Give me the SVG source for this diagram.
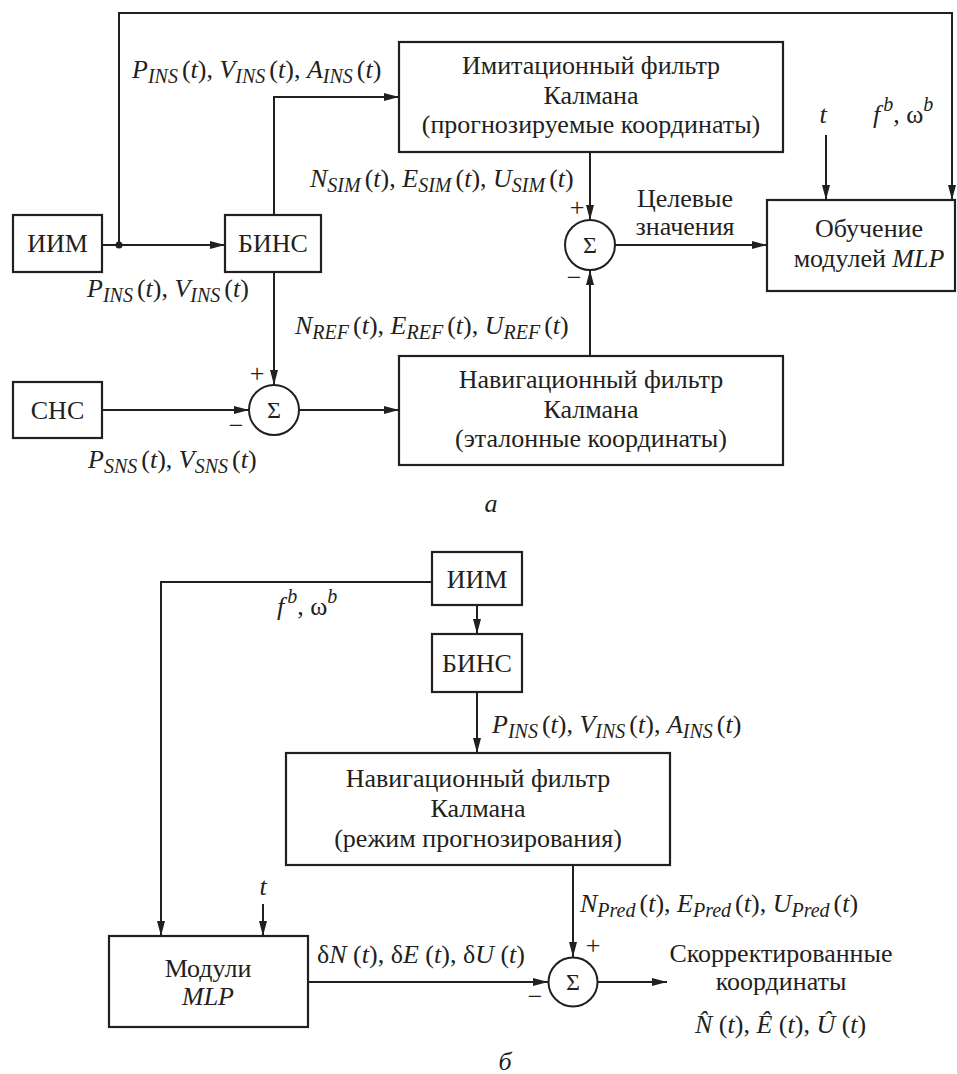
<svg xmlns="http://www.w3.org/2000/svg" width="957" height="1074" viewBox="0 0 957 1074" font-family="Liberation Serif, Tinos, Times New Roman, Times, Nimbus Roman, Noto Serif, DejaVu Serif, FreeSerif, serif">
  <defs>
    <marker id="arr" markerUnits="userSpaceOnUse" markerWidth="16" markerHeight="8" refX="15" refY="4" orient="auto">
      <path d="M0,0 L15,4 L0,8 Z" fill="#231f20"/>
    </marker>
  </defs>
  <style>
    .box { fill: none; stroke: #231f20; stroke-width: 2.2; }
    .ln { fill: none; stroke: #231f20; stroke-width: 2; }
    .ar { marker-end: url(#arr); }
    .sum { fill: #fff; stroke: #231f20; stroke-width: 2; }
    text { font-family: "Liberation Serif", Tinos, "Times New Roman", Times, "Nimbus Roman", "Noto Serif", "DejaVu Serif", FreeSerif, serif; font-size: 26px; fill: #231f20; }
    .c { text-anchor: middle; }
    .i { font-style: italic; }
    .sb { font-size: 20px; font-style: italic; }
    .sig { font-size: 24px; text-anchor: middle; }
    .pm { font-size: 26px; text-anchor: middle; }
  </style>

  <!-- connectors -->
  <g id="connectors">
    <!-- upper scheme -->
    <path class="ln ar" d="M102,245 H225"/>
    <path class="ln ar" d="M119,245 V13 H952 V200"/>
    <circle cx="119" cy="245" r="3.5" fill="#231f20"/>
    <path class="ln ar" d="M274,215 V97 H399"/>
    <path class="ln ar" d="M590,152 V220"/>
    <path class="ln ar" d="M590,356 V270"/>
    <path class="ln ar" d="M615,245 H767"/>
    <path class="ln ar" d="M826,135 V200"/>
    <path class="ln ar" d="M274,272 V385"/>
    <path class="ln ar" d="M102,410 H249"/>
    <path class="ln ar" d="M299,410 H399"/>
    <!-- lower scheme -->
    <path class="ln ar" d="M432,582 H161 V936"/>
    <path class="ln ar" d="M477,605 V634"/>
    <path class="ln ar" d="M477,692 V753"/>
    <path class="ln ar" d="M573,865 V957"/>
    <path class="ln ar" d="M263,904 V936"/>
    <path class="ln ar" d="M308,982 H548"/>
    <path class="ln ar" d="M598,982 H667"/>
  </g>

  <!-- upper scheme nodes -->
  <g id="iim-a">
    <rect class="box" x="13" y="215" width="89" height="57"/>
    <text class="c" x="57.5" y="252">ИИМ</text>
  </g>
  <g id="bins-a">
    <rect class="box" x="225" y="215" width="96" height="57"/>
    <text class="c" x="273" y="252">БИНС</text>
  </g>
  <g id="sim-filter">
    <rect class="box" x="399" y="42" width="384" height="110"/>
    <text class="c" x="591" y="74">Имитационный фильтр</text>
    <text class="c" x="591" y="104">Калмана</text>
    <text class="c" x="591" y="133">(прогнозируемые координаты)</text>
  </g>
  <g id="training">
    <rect class="box" x="767" y="200" width="188" height="91"/>
    <text class="c" x="869" y="237">Обучение</text>
    <text class="c" x="869" y="267">модулей <tspan class="i">MLP</tspan></text>
  </g>
  <g id="sns">
    <rect class="box" x="13" y="382" width="89" height="56"/>
    <text class="c" x="57.5" y="419">СНС</text>
  </g>
  <g id="ref-filter">
    <rect class="box" x="399" y="356" width="384" height="109"/>
    <text class="c" x="591" y="388">Навигационный фильтр</text>
    <text class="c" x="591" y="418">Калмана</text>
    <text class="c" x="591" y="447">(эталонные координаты)</text>
  </g>
  <g id="sum-target">
    <circle class="sum" cx="590" cy="245" r="25"/>
    <text class="sig" x="590" y="253">Σ</text>
    <text class="pm" x="577" y="216">+</text>
    <text class="pm" x="574" y="286">−</text>
  </g>
  <g id="sum-ref">
    <circle class="sum" cx="274" cy="410" r="25"/>
    <text class="sig" x="274" y="418">Σ</text>
    <text class="pm" x="257" y="382">+</text>
    <text class="pm" x="236" y="434">−</text>
  </g>

  <!-- upper scheme labels -->
  <g id="labels-a">
    <text x="132" y="78"><tspan class="i">P</tspan><tspan class="sb" dy="5">INS</tspan><tspan dy="-5" dx="4">(</tspan><tspan class="i">t</tspan>), <tspan class="i">V</tspan><tspan class="sb" dy="5">INS</tspan><tspan dy="-5" dx="4">(</tspan><tspan class="i">t</tspan>), <tspan class="i">A</tspan><tspan class="sb" dy="5">INS</tspan><tspan dy="-5" dx="4">(</tspan><tspan class="i">t</tspan>)</text>
    <text x="310" y="187"><tspan class="i">N</tspan><tspan class="sb" dy="5">SIM</tspan><tspan dy="-5" dx="4">(</tspan><tspan class="i">t</tspan>), <tspan class="i">E</tspan><tspan class="sb" dy="5">SIM</tspan><tspan dy="-5" dx="4">(</tspan><tspan class="i">t</tspan>), <tspan class="i">U</tspan><tspan class="sb" dy="5">SIM</tspan><tspan dy="-5" dx="4">(</tspan><tspan class="i">t</tspan>)</text>
    <text x="87" y="297"><tspan class="i">P</tspan><tspan class="sb" dy="5">INS</tspan><tspan dy="-5" dx="4">(</tspan><tspan class="i">t</tspan>), <tspan class="i">V</tspan><tspan class="sb" dy="5">INS</tspan><tspan dy="-5" dx="4">(</tspan><tspan class="i">t</tspan>)</text>
    <text x="295" y="334"><tspan class="i">N</tspan><tspan class="sb" dy="5">REF</tspan><tspan dy="-5" dx="4">(</tspan><tspan class="i">t</tspan>), <tspan class="i">E</tspan><tspan class="sb" dy="5">REF</tspan><tspan dy="-5" dx="4">(</tspan><tspan class="i">t</tspan>), <tspan class="i">U</tspan><tspan class="sb" dy="5">REF</tspan><tspan dy="-5" dx="4">(</tspan><tspan class="i">t</tspan>)</text>
    <text x="88" y="468"><tspan class="i">P</tspan><tspan class="sb" dy="5">SNS</tspan><tspan dy="-5" dx="4">(</tspan><tspan class="i">t</tspan>), <tspan class="i">V</tspan><tspan class="sb" dy="5">SNS</tspan><tspan dy="-5" dx="4">(</tspan><tspan class="i">t</tspan>)</text>
    <text class="c" x="685" y="207">Целевые</text>
    <text class="c" x="685" y="235">значения</text>
    <text class="c i" x="823" y="123">t</text>
    <text x="873" y="123"><tspan class="i">f</tspan><tspan class="sb" dy="-12" dx="3">b</tspan><tspan dy="12">, ω</tspan><tspan class="sb" dy="-12">b</tspan></text>
    <text class="c i" x="491" y="512">а</text>
  </g>

  <!-- lower scheme nodes -->
  <g id="iim-b">
    <rect class="box" x="432" y="552" width="90" height="53"/>
    <text class="c" x="477" y="588">ИИМ</text>
  </g>
  <g id="bins-b">
    <rect class="box" x="432" y="634" width="90" height="58"/>
    <text class="c" x="477" y="672">БИНС</text>
  </g>
  <g id="pred-filter">
    <rect class="box" x="286" y="753" width="384" height="112"/>
    <text class="c" x="478" y="787">Навигационный фильтр</text>
    <text class="c" x="478" y="817">Калмана</text>
    <text class="c" x="478" y="847">(режим прогнозирования)</text>
  </g>
  <g id="mlp">
    <rect class="box" x="109" y="936" width="199" height="91"/>
    <text class="c" x="208" y="977">Модули</text>
    <text class="c i" x="208" y="1005">MLP</text>
  </g>
  <g id="sum-corr">
    <circle class="sum" cx="573" cy="982" r="24.5"/>
    <text class="sig" x="573" y="990">Σ</text>
    <text class="pm" x="593" y="954">+</text>
    <text class="pm" x="535" y="1005">−</text>
  </g>

  <!-- lower scheme labels -->
  <g id="labels-b">
    <text x="277" y="615"><tspan class="i">f</tspan><tspan class="sb" dy="-12" dx="3">b</tspan><tspan dy="12">, ω</tspan><tspan class="sb" dy="-12">b</tspan></text>
    <text x="492" y="733"><tspan class="i">P</tspan><tspan class="sb" dy="5">INS</tspan><tspan dy="-5" dx="4">(</tspan><tspan class="i">t</tspan>), <tspan class="i">V</tspan><tspan class="sb" dy="5">INS</tspan><tspan dy="-5" dx="4">(</tspan><tspan class="i">t</tspan>), <tspan class="i">A</tspan><tspan class="sb" dy="5">INS</tspan><tspan dy="-5" dx="4">(</tspan><tspan class="i">t</tspan>)</text>
    <text x="580" y="912"><tspan class="i">N</tspan><tspan class="sb" dy="5">Pred</tspan><tspan dy="-5" dx="4">(</tspan><tspan class="i">t</tspan>), <tspan class="i">E</tspan><tspan class="sb" dy="5">Pred</tspan><tspan dy="-5" dx="4">(</tspan><tspan class="i">t</tspan>), <tspan class="i">U</tspan><tspan class="sb" dy="5">Pred</tspan><tspan dy="-5" dx="4">(</tspan><tspan class="i">t</tspan>)</text>
    <text class="c i" x="263" y="895">t</text>
    <text x="317" y="963">δ<tspan class="i">N</tspan> (<tspan class="i">t</tspan>), δ<tspan class="i">E</tspan> (<tspan class="i">t</tspan>), δ<tspan class="i">U</tspan> (<tspan class="i">t</tspan>)</text>
    <text class="c" x="781" y="962">Скорректированные</text>
    <text class="c" x="781" y="990">координаты</text>
    <text x="695" y="1033"><tspan class="i">N̂</tspan> (<tspan class="i">t</tspan>), <tspan class="i">Ê</tspan> (<tspan class="i">t</tspan>), <tspan class="i">Û</tspan> (<tspan class="i">t</tspan>)</text>
    <text class="c i" x="505" y="1070">б</text>
  </g>
</svg>
